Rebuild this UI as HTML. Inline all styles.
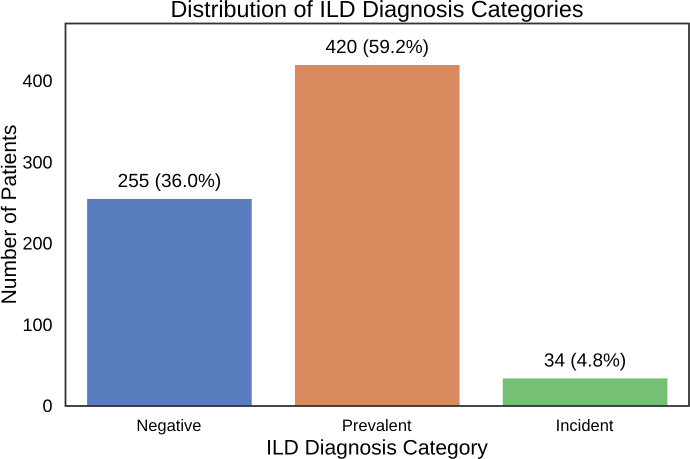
<!DOCTYPE html>
<html>
<head>
<meta charset="utf-8">
<style>
html,body{margin:0;padding:0;background:#fff;width:690px;height:459px;overflow:hidden}
svg{display:block}
text{font-family:"Liberation Sans",Arial,sans-serif;fill:#000;text-rendering:geometricPrecision}
</style>
</head>
<body>
<svg id="chart" width="690" height="459" viewBox="0 0 690 459" xmlns="http://www.w3.org/2000/svg">
<text x="377" y="17" font-size="23.3" text-anchor="middle">Distribution of ILD Diagnosis Categories</text>
<text x="377" y="454.5" font-size="21" text-anchor="middle">ILD Diagnosis Category</text>
<text transform="translate(16,214.5) rotate(-90)" font-size="21" text-anchor="middle">Number of Patients</text>
<g id="marks"></g>
<rect x="65.5" y="23.5" width="623.5" height="382.5" fill="none" stroke="#333" stroke-width="1.8"></rect>
</svg>
<script>
const categories = ['Negative', 'Prevalent', 'Incident'];
const counts = [255, 420, 34];
const valueLabels = ['255 (36.0%)', '420 (59.2%)', '34 (4.8%)'];
const yTicks = [0, 100, 200, 300, 400];
const barColors = ['#5a7dbf', '#d98b60', '#75c074'];

const NS = 'http://www.w3.org/2000/svg';
const plot = { left: 65.5, right: 689, top: 23.5, bottom: 406 };
const pxPerUnit = 341 / 420;
function yScale(v) { return plot.bottom - v * pxPerUnit; }
function xBand() { return (plot.right - plot.left) / categories.length; }
function xCenter(i) { return plot.left + xBand() * (i + 0.5); }
const barWidth = xBand() * 0.792;
const marks = document.getElementById('marks');

function addText(content, x, y, size, anchor) {
  const t = document.createElementNS(NS, 'text');
  t.textContent = content;
  t.setAttribute('x', x);
  t.setAttribute('y', y);
  t.setAttribute('font-size', size);
  t.setAttribute('text-anchor', anchor);
  marks.appendChild(t);
  return t;
}

categories.forEach(function (name, i) {
  const r = document.createElementNS(NS, 'rect');
  r.setAttribute('x', xCenter(i) - barWidth / 2);
  r.setAttribute('y', yScale(counts[i]));
  r.setAttribute('width', barWidth);
  r.setAttribute('height', plot.bottom - yScale(counts[i]));
  r.setAttribute('fill', barColors[i]);
  
  
  marks.appendChild(r);

  const v = addText(valueLabels[i], xCenter(i), yScale(counts[i]) - 12, 19, 'middle');
  
  

  const c = addText(name, xCenter(i) - 0.5, 431, 16.5, 'middle');
  
  
});

yTicks.forEach(function (tick) {
  const t = addText(String(tick), 52.5, yScale(tick) + 6, 18, 'end');
  
  
});
</script>
</body>
</html>
